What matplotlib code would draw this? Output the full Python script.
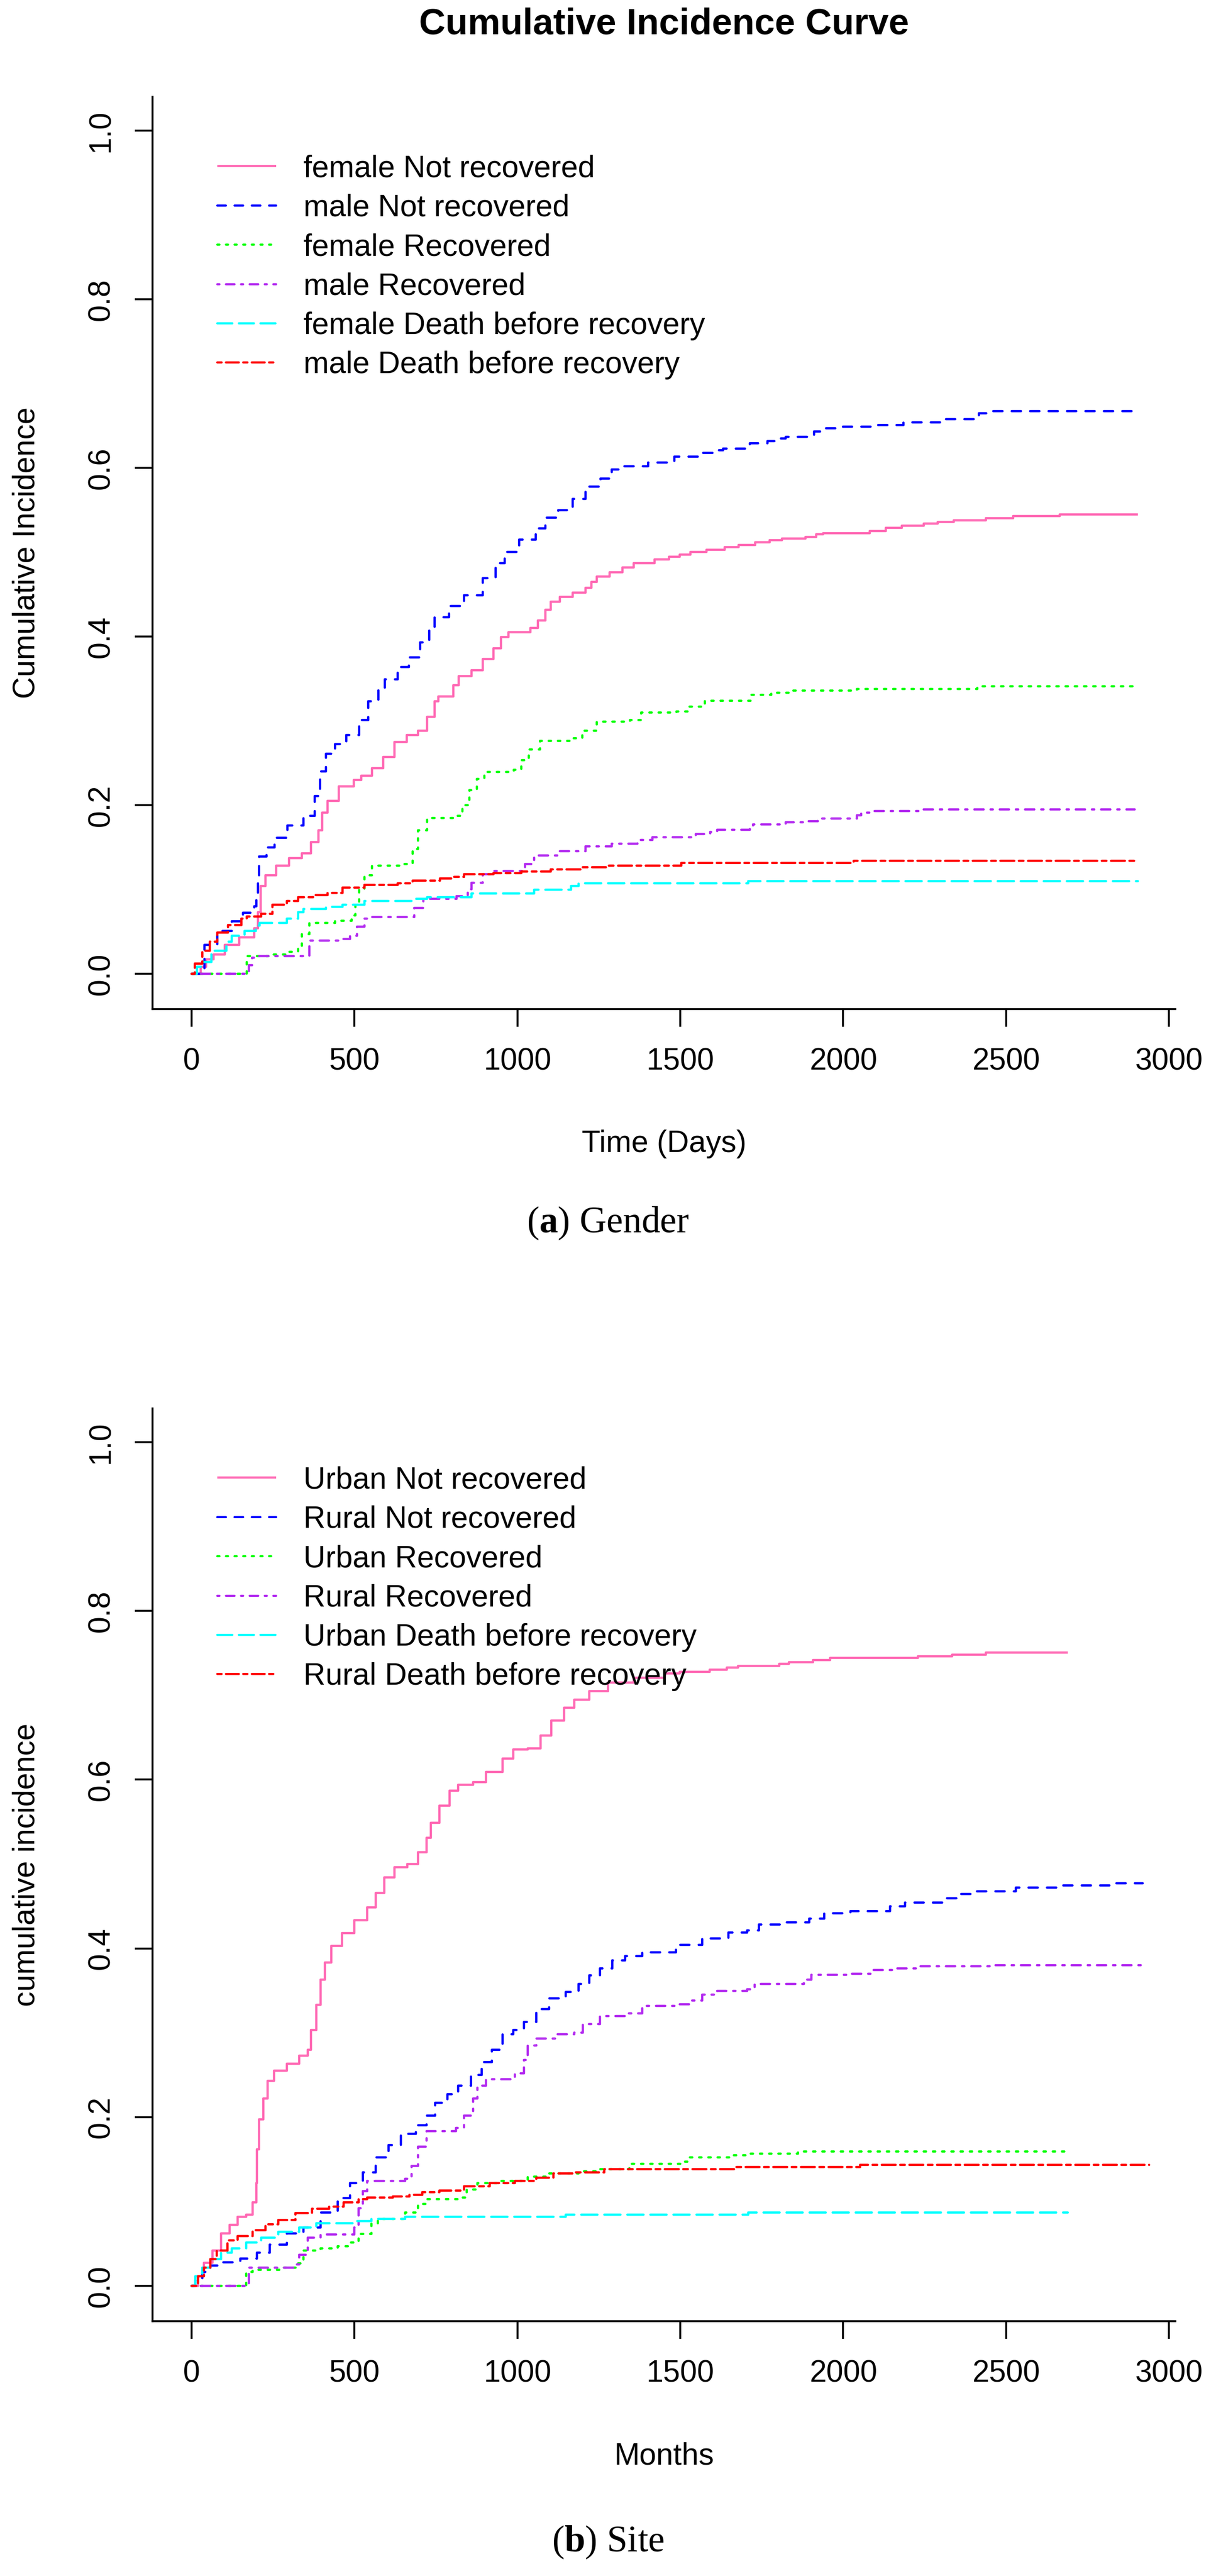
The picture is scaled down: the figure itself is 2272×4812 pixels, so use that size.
#!/usr/bin/env python
# -*- coding: utf-8 -*-

import numpy as np
import matplotlib
matplotlib.use('Agg')
import matplotlib.pyplot as plt

# (time, cumulative incidence) step points
# (a) Gender
female_not_rec = [(0, 0), (28, .008), (45, .017), (67, .023), (101, .034), (146, .043), (192, .054),
                  (203, .073), (212, .104), (226, .117), (260, .128), (299, .137), (339, .143),
                  (367, .156), (390, .170), (401, .191), (418, .205), (452, .222), (497, .230),
                  (520, .235), (554, .244), (588, .257), (622, .275), (661, .283), (695, .288),
                  (723, .305), (746, .323), (757, .329), (803, .342), (820, .353), (859, .360),
                  (893, .373), (927, .386), (950, .399), (972, .405), (1040, .410), (1063, .419),
                  (1086, .432), (1103, .441), (1131, .447), (1170, .452), (1210, .458), (1227, .465),
                  (1244, .471), (1284, .476), (1323, .482), (1357, .487), (1422, .4915), (1466, .4945),
                  (1499, .497), (1532, .500), (1581, .503), (1636, .506), (1680, .5085), (1730, .5115),
                  (1774, .514), (1812, .516), (1884, .518), (1917, .521), (1939, .5225), (2082, .525),
                  (2131, .529), (2181, .5315), (2247, .534), (2291, .536), (2340, .538), (2439, .540),
                  (2522, .5425), (2665, .545), (2905, .545)]
male_not_rec = [(0, 0), (39, .034), (79, .051), (124, .062), (158, .072), (192, .080), (199, .088),
                (203, .115), (207, .139), (230, .150), (254, .161), (294, .176), (344, .187),
                (378, .211), (395, .240), (412, .261), (441, .272), (475, .283), (514, .301),
                (542, .323), (574, .338), (593, .349), (633, .364), (667, .375), (701, .393),
                (729, .410), (746, .423), (791, .436), (837, .449), (893, .469), (933, .487),
                (961, .500), (1006, .515), (1057, .528), (1086, .541), (1125, .550), (1170, .563),
                (1210, .578), (1255, .587), (1289, .598), (1312, .602), (1402, .606), (1482, .613),
                (1559, .618), (1603, .621), (1631, .623), (1713, .629), (1768, .632), (1807, .635),
                (1823, .637), (1911, .643), (1944, .647), (1999, .649), (2087, .651), (2186, .654),
                (2307, .658), (2417, .665), (2450, .667), (2900, .667)]
female_rec = [(0, 0), (169, .021), (237, .023), (293, .026), (327, .030), (339, .047), (361, .060),
              (440, .063), (491, .069), (503, .084), (514, .100), (531, .117), (554, .128),
              (650, .130), (678, .148), (695, .170), (723, .185), (814, .187), (831, .200),
              (853, .218), (876, .231), (899, .239), (989, .242), (1012, .253), (1035, .266),
              (1069, .276), (1165, .279), (1199, .288), (1244, .299), (1346, .301), (1380, .3095),
              (1488, .311), (1526, .317), (1576, .3236), (1719, .331), (1779, .333), (1845, .336),
              (2043, .338), (2412, .3406), (2900, .3406)]
male_rec = [(0, 0), (175, .010), (186, .019), (205, .021), (361, .039), (452, .041), (486, .045),
            (508, .056), (531, .065), (545, .067), (684, .078), (712, .089), (814, .092),
            (848, .100), (859, .108), (893, .118), (927, .122), (1023, .130), (1052, .140),
            (1131, .1455), (1210, .151), (1289, .154), (1368, .1586), (1414, .162), (1548, .1655),
            (1592, .168), (1614, .1706), (1713, .174), (1724, .177), (1823, .1795), (1878, .181),
            (1922, .184), (2043, .188), (2055, .191), (2087, .193), (2242, .195), (2895, .195)]
female_death = [(0, 0), (16, .008), (33, .014), (61, .027), (107, .038), (124, .045), (163, .051),
                (197, .057), (209, .060), (293, .0655), (327, .073), (344, .077), (412, .079),
                (463, .082), (531, .086), (684, .089), (723, .091), (859, .095), (1052, .0996),
                (1165, .104), (1188, .1075), (1708, .110), (2905, .110)]
male_death = [(0, 0), (10, .012), (33, .027), (56, .038), (78, .049), (112, .058), (152, .065),
              (169, .068), (214, .071), (248, .082), (293, .086), (327, .091), (373, .093),
              (418, .096), (463, .102), (531, .105), (633, .107), (678, .1105), (763, .113),
              (797, .115), (837, .118), (927, .119), (1012, .121), (1102, .124), (1199, .126),
              (1278, .128), (1504, .1314), (2032, .1336), (2895, .1336)]

# (b) Site
urban_not_rec = [(0, 0), (19, .011), (38, .027), (64, .042), (90, .062), (116, .072), (142, .082),
                 (168, .084), (188, .099), (198, .122), (201, .162), (207, .197), (220, .222),
                 (233, .243), (253, .255), (292, .263), (331, .273), (357, .280), (367, .303),
                 (383, .333), (396, .363), (409, .383), (428, .403), (461, .418), (500, .4335),
                 (539, .4485), (565, .466), (591, .484), (623, .496), (662, .500), (695, .514),
                 (721, .531), (734, .549), (760, .569), (792, .587), (818, .594), (864, .597),
                 (903, .609), (954, .625), (987, .6355), (1032, .637), (1071, .652), (1104, .670),
                 (1143, .685), (1175, .695), (1221, .705), (1279, .715), (1357, .721), (1453, .726),
                 (1499, .728), (1591, .7305), (1643, .733), (1677, .735), (1804, .737), (1833, .739),
                 (1908, .742), (1960, .744), (2230, .746), (2334, .748), (2438, .7506), (2690, .7506)]
rural_not_rec = [(0, 0), (12, .0065), (32, .0165), (58, .024), (97, .0275), (149, .0325), (201, .039),
                 (240, .049), (292, .062), (344, .069), (396, .087), (448, .104), (487, .122),
                 (526, .1345), (565, .152), (604, .167), (643, .180), (688, .190), (721, .202),
                 (747, .217), (786, .227), (818, .2375), (857, .250), (890, .265), (922, .280),
                 (954, .298), (987, .303), (1020, .313), (1058, .328), (1097, .3405), (1149, .348),
                 (1188, .358), (1221, .368), (1253, .376), (1292, .386), (1331, .391), (1383, .3955),
                 (1487, .404), (1568, .412), (1648, .4186), (1706, .421), (1741, .428), (1810, .431),
                 (1896, .435), (1942, .4417), (2023, .4444), (2144, .4497), (2190, .454), (2317, .4595),
                 (2363, .4645), (2409, .4676), (2530, .472), (2668, .4743), (2818, .4774), (2920, .4774)]
urban_rec = [(0, 0), (168, .0165), (188, .019), (279, .0215), (324, .0265), (344, .0416), (396, .044),
             (448, .0466), (487, .0516), (513, .0617), (552, .0742), (571, .0792), (656, .0868),
             (695, .0968), (721, .103), (825, .1044), (844, .1144), (877, .122), (941, .1245),
             (1032, .1295), (1097, .133), (1188, .136), (1253, .138), (1344, .1445), (1500, .147),
             (1526, .152), (1660, .1547), (1706, .1565), (1862, .159), (2690, .159)]
rural_rec = [(0, 0), (175, .0215), (318, .0255), (331, .0365), (357, .057), (396, .061), (500, .069),
             (513, .092), (526, .112), (539, .1245), (656, .127), (675, .142), (695, .165),
             (721, .183), (812, .187), (837, .202), (864, .222), (877, .2375), (903, .245),
             (993, .2516), (1020, .268), (1032, .285), (1058, .293), (1123, .298), (1175, .300),
             (1201, .310), (1253, .320), (1331, .323), (1383, .332), (1499, .334), (1528, .338),
             (1568, .345), (1614, .3495), (1706, .3517), (1729, .358), (1879, .363), (1902, .3686),
             (2011, .370), (2086, .374), (2150, .376), (2230, .3785), (2450, .380), (2920, .380)]
urban_death = [(0, 0), (12, .011), (32, .0215), (58, .0315), (90, .039), (123, .044), (168, .0516),
               (214, .0567), (266, .064), (331, .069), (383, .074), (500, .0767), (552, .079),
               (656, .082), (1149, .0843), (1708, .0866), (2690, .0866)]
rural_death = [(0, 0), (19, .011), (38, .0215), (58, .0315), (77, .0416), (110, .054), (142, .059),
               (188, .0657), (227, .0727), (266, .078), (318, .086), (370, .091), (422, .094),
               (467, .099), (513, .103), (539, .1044), (617, .106), (669, .108), (708, .111),
               (760, .113), (837, .118), (915, .122), (993, .1245), (1058, .128), (1110, .133),
               (1175, .1345), (1266, .138), (1666, .141), (2052, .143), (2940, .143)]

gender_labels = ['female Not recovered', 'male Not recovered', 'female Recovered',
                 'male Recovered', 'female Death before recovery', 'male Death before recovery']
site_labels = ['Urban Not recovered', 'Rural Not recovered', 'Urban Recovered',
               'Rural Recovered', 'Urban Death before recovery', 'Rural Death before recovery']
x_ticks = [0, 500, 1000, 1500, 2000, 2500, 3000]
y_ticks = [0.0, 0.2, 0.4, 0.6, 0.8, 1.0]

# R colours 1..6 / lty 1..6
colors = ['#FF69B4', '#0000FF', '#00FF00', '#B32BF0', '#00FFFF', '#FF0000']
styles = ['-', (0, (4, 4)), (0, (1, 3)), (0, (1, 3, 4, 3)), (0, (7, 3)), (0, (2, 2, 6, 2))]

W, H = 2272, 4812
FS = 41
LW = 2.56       # axes / ticks
CURVE_LW = 3.1  # curves

plt.rcParams['font.family'] = ['Liberation Sans', 'DejaVu Sans']
plt.rcParams['mathtext.fontset'] = 'custom'
plt.rcParams['mathtext.rm'] = 'Liberation Serif'
plt.rcParams['mathtext.bf'] = 'Liberation Serif:bold'


def draw_panel(ax, series, labels, ylabel, xlabel):
    for pts, lab, c, ls in zip(series, labels, colors, styles):
        t = [p[0] for p in pts]
        v = [p[1] for p in pts]
        ax.step(t, v, where='post', color=c, linestyle=ls, lw=CURVE_LW, label=lab,
                dash_capstyle='round', solid_capstyle='butt')
    ax.set_xlim(-120, 3020)
    ax.set_ylim(-0.042, 1.04)
    ax.set_xticks(x_ticks)
    ax.set_xticklabels([str(x) for x in x_ticks], fontsize=FS)
    ax.set_yticks(y_ticks)
    ax.set_yticklabels(['%.1f' % y for y in y_ticks], fontsize=FS, rotation=90,
                       ha='center', va='center')
    ax.tick_params(axis='x', direction='out', length=23.8, width=LW, pad=28)
    ax.tick_params(axis='y', direction='out', length=23.8, width=LW, pad=45)
    for s in ['top', 'right']:
        ax.spines[s].set_visible(False)
    for s in ['left', 'bottom']:
        ax.spines[s].set_linewidth(LW)
    ax.set_xlabel(xlabel, fontsize=FS)
    ax.xaxis.set_label_coords(0.5, -0.148)
    ax.xaxis.label.set_va('center')
    ax.set_ylabel(ylabel, fontsize=FS)
    ax.yaxis.set_label_coords(-0.123, 0.5)
    ax.yaxis.label.set_va('center')
    leg = ax.legend(loc='upper left', bbox_to_anchor=(0.0633, 0.937), frameon=False, fontsize=FS,
                    handlelength=1.93, handletextpad=0.89, labelspacing=0.34, borderpad=0,
                    borderaxespad=0)
    for line in leg.get_lines():
        line.set_linewidth(2.9)


def main():
    fig = plt.figure(figsize=(W / 100, H / 100), dpi=100)
    left = 285 / W
    width = (2196 - 285) / W
    ax1 = fig.add_axes([left, 1 - 1885 / H, width, (1885 - 181) / H])
    ax2 = fig.add_axes([left, 1 - 4336 / H, width, (4336 - 2631) / H])

    draw_panel(ax1, [female_not_rec, male_not_rec, female_rec, male_rec, female_death, male_death],
               gender_labels, 'Cumulative Incidence', 'Time (Days)')
    draw_panel(ax2, [urban_not_rec, rural_not_rec, urban_rec, rural_rec, urban_death, rural_death],
               site_labels, 'cumulative incidence', 'Months')

    ax1.text(0.5, 1.0795, 'Cumulative Incidence Curve', transform=ax1.transAxes,
             ha='center', va='center', fontsize=FS * 1.2, fontweight='bold')

    fig.text(0.5, 1 - 2285 / H, r'($\mathbf{a}$) Gender', ha='center', va='center',
             fontsize=50, family='Liberation Serif')
    fig.text(0.5, 1 - 4749 / H, r'($\mathbf{b}$) Site', ha='center', va='center',
             fontsize=50, family='Liberation Serif')

    fig.savefig('out.png', dpi=100)
    return 0


if __name__ == '__main__':
    import sys
    sys.exit(main())
